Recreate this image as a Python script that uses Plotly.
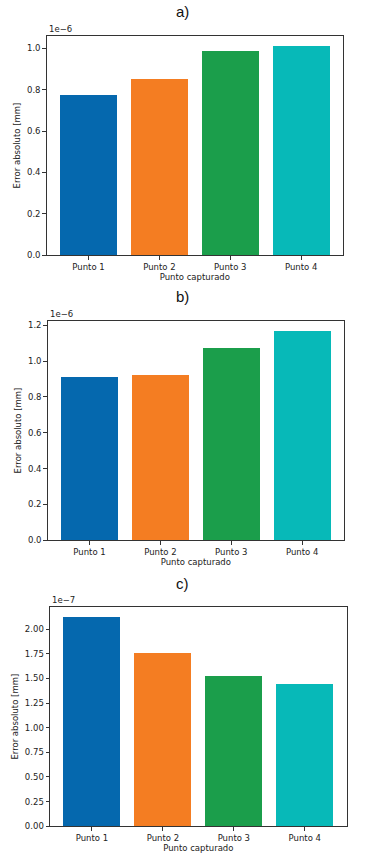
import plotly.graph_objects as go

categories = ["Punto 1", "Punto 2", "Punto 3", "Punto 4"]
values_a = [0.776e-6, 0.852e-6, 0.988e-6, 1.010e-6]
values_b = [0.913e-6, 0.924e-6, 1.076e-6, 1.167e-6]
values_c = [2.117e-7, 1.755e-7, 1.527e-7, 1.446e-7]
colors = ["#0568ae", "#f47d22", "#1b9e4b", "#07b9b8"]

ticks_a = [0.0, 0.2, 0.4, 0.6, 0.8, 1.0]
ticks_b = [0.0, 0.2, 0.4, 0.6, 0.8, 1.0, 1.2]
ticks_c = [0.0, 0.25, 0.5, 0.75, 1.0, 1.25, 1.5, 1.75, 2.0]
ticktext_a = ["0.0", "0.2", "0.4", "0.6", "0.8", "1.0"]
ticktext_b = ["0.0", "0.2", "0.4", "0.6", "0.8", "1.0", "1.2"]
ticktext_c = ["0.00", "0.25", "0.50", "0.75", "1.00", "1.25", "1.50", "1.75", "2.00"]
scales = [1e-6, 1e-6, 1e-7]
offset_labels = ["1e\u22126", "1e\u22126", "1e\u22127"]
panel_titles = ["a)", "b)", "c)"]

W, H = 371, 860
# pixel boxes: (left, right, top, bottom)
boxes = [(46.7, 343.0, 36.0, 256.7), (47.7, 344.0, 322.7, 543.3), (50.0, 346.7, 610.7, 831.0)]

fig = go.Figure()
series = [values_a, values_b, values_c]
ticks = [ticks_a, ticks_b, ticks_c]
ticktexts = [ticktext_a, ticktext_b, ticktext_c]

tickfont = dict(family="DejaVu Sans", size=8.5, color="#222")
layout = {}
annotations = []
for i in range(3):
    n = "" if i == 0 else str(i + 1)
    l, r, t, b = boxes[i]
    fig.add_trace(go.Bar(x=categories, y=series[i], marker=dict(color=colors, line=dict(width=0)),
                         width=0.8, xaxis="x" + n, yaxis="y" + n, showlegend=False))
    ymax = max(series[i]) * 1.05
    layout["xaxis" + n] = dict(domain=[l / W, r / W], anchor="y" + n, range=[-0.59, 3.59],
                               showline=True, mirror=True, linecolor="#333", linewidth=1,
                               ticks="outside", ticklen=3.5, tickcolor="#333", tickfont=tickfont,
                               showgrid=False, zeroline=False, fixedrange=True,
                               title=dict(text="Punto capturado", font=tickfont, standoff=3))
    layout["yaxis" + n] = dict(domain=[1 - b / H, 1 - t / H], anchor="x" + n, range=[0, ymax],
                               tickvals=[v * scales[i] for v in ticks[i]], ticktext=ticktexts[i],
                               showline=True, mirror=True, linecolor="#333", linewidth=1,
                               ticks="outside", ticklen=3.5, tickcolor="#333", tickfont=tickfont,
                               showgrid=False, zeroline=False, fixedrange=True,
                               title=dict(text="Error absoluto [mm]", font=tickfont, standoff=4))
    annotations.append(dict(text=offset_labels[i], xref="paper", yref="paper",
                            x=l / W, y=1 - t / H, xanchor="left", yanchor="bottom",
                            showarrow=False, font=tickfont, yshift=0))
    annotations.append(dict(text=panel_titles[i], xref="paper", yref="paper",
                            x=182 / W, y=1 - (t - 24) / H, xanchor="center", yanchor="middle",
                            showarrow=False,
                            font=dict(family="Liberation Sans Narrow, Liberation Sans", size=15, color="#111")))

fig.update_layout(width=W, height=H, margin=dict(l=0, r=0, t=0, b=0),
                  plot_bgcolor="white", paper_bgcolor="white",
                  annotations=annotations, bargap=0, **layout)
fig.write_html("out.html", config={"displayModeBar": False},
               post_script="document.body.style.margin='0';")
